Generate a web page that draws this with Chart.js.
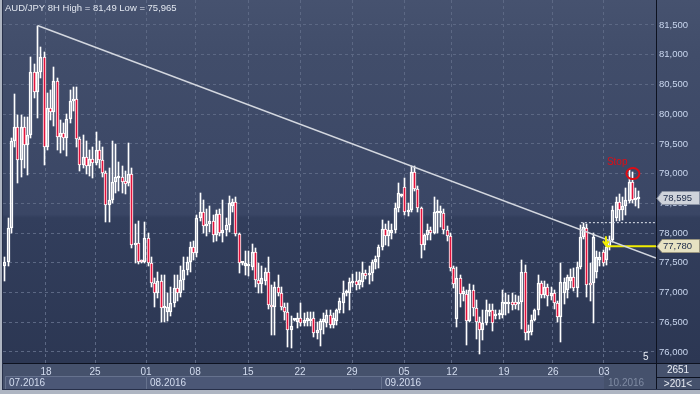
<!DOCTYPE html>
<html>
<head>
<meta charset="utf-8">
<script src="https://cdn.jsdelivr.net/npm/chart.js@4.4.0/dist/chart.umd.min.js"></script>
<style>
  html, body { margin: 0; padding: 0; background: #aeb5c2; }
  #c { display: block; }
</style>
</head>
<body>
<canvas id="c" width="700" height="394"></canvas>
<script>
// AUD/JPY 8H candles (index 0 = first bar on the left)
const openP = [
  77.45,77.52,78.08,79.55,79.78,79.23,79.78,79.48,79.65,80.71,
  80.37,80.71,80.96,79.45,80.10,80.03,80.55,79.62,79.68,79.60,
  79.92,80.22,80.25,79.58,79.15,79.28,79.12,79.25,79.18,79.40,
  79.23,79.01,78.47,78.56,78.86,78.92,78.95,78.88,78.84,79.00,
  77.80,77.83,77.52,77.51,77.92,77.50,77.16,76.99,77.20,76.74,
  76.68,76.67,76.82,77.07,77.00,77.21,77.38,77.51,77.76,77.66,
  78.25,78.35,78.12,78.15,78.20,77.97,78.32,78.00,78.05,78.14,
  78.45,78.52,77.98,77.49,77.45,77.45,77.43,77.68,77.21,77.14,
  77.20,77.34,76.79,76.76,77.09,77.00,76.76,76.67,76.37,76.53,
  76.50,76.57,76.49,76.52,76.52,76.57,76.32,76.37,76.50,76.48,
  76.62,76.45,76.52,76.71,76.82,77.00,77.00,77.16,77.20,77.13,
  77.18,77.33,77.30,77.33,77.51,77.60,77.77,78.07,77.95,78.00,
  78.05,78.42,78.62,78.78,78.35,78.39,79.03,78.74,78.42,77.80,
  77.97,78.05,78.00,78.33,78.34,78.34,78.05,77.95,77.41,76.56,
  77.24,76.98,76.98,76.52,77.04,76.74,76.50,76.37,76.49,76.67,
  76.71,76.60,76.63,76.62,76.80,76.80,76.84,76.84,76.80,76.84,
  77.34,76.32,76.33,76.54,76.71,77.16,76.96,77.10,76.95,77.00,
  76.82,76.59,77.00,77.05,77.20,77.26,77.08,77.43,77.93,78.08,
  77.16,77.16,77.34,77.55,77.68,77.55,77.77,77.88,78.25,78.52,
  78.39,78.45,78.54,78.86,78.56,78.58
];
const highP = [
  77.60,78.25,79.60,80.34,79.98,79.99,79.95,79.95,80.96,80.85,
  81.49,81.13,81.05,80.35,80.40,80.80,80.60,79.90,79.85,80.00,
  80.40,80.46,80.46,79.62,79.65,79.55,79.40,79.45,79.70,79.55,
  79.45,79.05,79.10,79.55,79.50,79.20,79.12,79.05,79.52,79.10,
  78.15,78.20,77.55,78.19,78.00,77.60,77.25,77.35,77.30,77.30,
  77.00,77.10,77.30,77.30,77.45,77.60,77.60,77.85,77.86,78.30,
  78.67,78.55,78.40,78.45,78.30,78.38,78.40,78.56,78.25,78.62,
  78.58,78.60,78.00,77.52,77.70,77.70,77.82,77.75,77.50,77.45,
  77.42,77.60,77.12,77.18,77.30,77.10,76.82,76.82,76.60,76.56,
  76.65,76.82,76.65,76.68,76.68,76.68,76.50,76.56,76.65,76.70,
  76.70,76.66,76.73,76.90,77.20,77.05,77.24,77.31,77.35,77.35,
  77.51,77.38,77.44,77.55,77.61,77.80,78.22,78.15,78.20,78.15,
  78.50,78.84,78.66,78.93,78.50,79.13,79.12,78.80,78.44,77.98,
  78.15,78.10,78.60,78.55,78.45,78.40,78.12,78.00,77.45,77.43,
  77.30,77.10,77.04,77.15,77.12,76.88,76.59,76.70,76.88,76.80,
  76.80,76.70,76.70,77.04,77.00,76.96,77.00,76.96,76.95,77.55,
  77.46,76.45,76.62,76.73,77.29,77.20,77.20,77.15,77.10,77.05,
  76.85,77.50,77.25,77.30,77.40,77.42,77.52,78.14,78.17,78.15,
  77.50,78.00,77.70,77.68,77.72,77.88,77.95,78.45,78.60,78.65,
  78.60,78.75,79.06,79.02,78.75,78.70
];
const lowP = [
  77.20,77.45,78.00,79.45,78.84,78.95,79.10,78.98,79.60,80.28,
  79.93,80.60,79.14,79.40,79.90,79.80,79.40,79.35,79.40,79.30,
  79.85,80.05,79.45,79.04,79.10,79.00,78.96,78.93,79.15,79.10,
  78.95,78.19,78.18,78.50,78.68,78.70,78.68,78.66,78.80,77.75,
  77.50,77.48,77.50,77.50,77.45,77.10,76.76,76.90,76.50,76.50,
  76.52,76.60,76.75,76.85,76.92,77.05,77.30,77.35,77.55,77.60,
  78.20,78.00,77.95,78.02,77.85,77.87,77.95,77.85,77.95,78.02,
  78.35,77.95,77.33,77.47,77.30,77.28,77.38,77.10,77.00,77.00,
  77.12,76.72,76.29,76.29,76.95,76.70,76.54,76.08,76.06,76.52,
  76.40,76.44,76.44,76.44,76.44,76.26,76.22,76.10,76.30,76.42,
  76.40,76.40,76.46,76.65,76.65,76.95,76.70,77.10,77.05,77.06,
  77.10,77.22,77.15,77.20,77.40,77.42,77.72,77.80,77.78,77.90,
  78.00,78.36,78.60,78.30,78.28,78.35,78.70,78.36,77.58,77.72,
  77.88,77.88,77.98,78.00,78.10,77.99,77.86,77.36,77.07,76.42,
  76.75,76.86,76.12,76.50,76.60,76.22,75.965,76.20,76.45,76.60,
  76.35,76.55,76.55,76.58,76.62,76.66,76.70,76.72,76.70,76.38,
  76.20,76.20,76.28,76.52,76.62,76.90,76.90,76.78,76.88,76.72,
  76.50,76.17,76.80,76.90,77.08,77.02,76.93,77.40,77.90,76.92,
  76.85,76.49,77.25,77.45,77.45,77.46,77.72,77.85,78.20,78.20,
  78.22,78.30,78.50,78.50,78.45,78.42
];
const closeP = [
  77.52,78.08,79.55,79.78,79.23,79.78,79.48,79.65,80.71,80.37,
  80.71,80.96,79.45,80.10,80.03,80.55,79.62,79.68,79.60,79.92,
  80.22,80.25,79.58,79.15,79.28,79.12,79.25,79.18,79.40,79.23,
  79.01,78.47,78.56,78.86,78.94,78.95,78.86,78.83,79.00,77.80,
  77.83,77.52,77.51,77.92,77.50,77.16,76.99,77.20,76.74,76.76,
  76.75,76.82,77.07,77.00,77.21,77.38,77.51,77.76,77.66,78.25,
  78.35,78.12,78.15,78.20,77.97,78.32,78.00,78.05,78.14,78.50,
  78.52,77.98,77.49,77.50,77.50,77.48,77.68,77.21,77.14,77.24,
  77.34,76.79,76.76,77.09,77.00,76.76,76.67,76.37,76.43,76.54,
  76.57,76.49,76.54,76.57,76.56,76.32,76.37,76.52,76.55,76.62,
  76.45,76.57,76.71,76.85,77.00,77.00,77.18,77.20,77.13,77.21,
  77.33,77.28,77.33,77.51,77.57,77.77,78.07,77.95,78.05,78.05,
  78.42,78.67,78.64,78.35,78.39,79.03,78.74,78.42,77.80,77.97,
  78.05,78.00,78.35,78.36,78.36,78.05,77.95,77.41,77.15,77.24,
  76.98,77.02,76.52,77.04,76.74,76.50,76.37,76.49,76.71,76.71,
  76.49,76.64,76.63,76.84,76.84,76.84,76.79,76.79,76.84,77.34,
  76.32,76.33,76.54,76.71,77.16,76.96,77.10,76.95,77.00,76.82,
  76.59,77.18,77.18,77.26,77.26,77.08,77.43,77.93,78.10,77.13,
  77.13,77.93,77.60,77.60,77.50,77.77,77.88,78.39,78.52,78.39,
  78.45,78.55,78.86,78.56,78.58,78.595
];

// x axis: week ticks (bar index where the week starts) and month blocks
const weekTicks  = [12.6, 27.7, 43.4, 58.5, 74.8, 90.8, 106.8, 122.8, 137.5, 153.5, 168.6, 184.3];
const weekLabels = ['18','25','01','08','15','22','29','05','12','19','26','03'];
const monthStarts = [-0.6, 43.4, 115.7, 184.3];
const monthLabels = ['07.2016','08.2016','09.2016','10.2016'];

// y axis ticks
const priceTicks = [76, 76.5, 77, 77.5, 78, 78.5, 79, 79.5, 80, 80.5, 81, 81.5];

// drawn objects on the chart
const trendIdx   = [10, 200.3];
const trendPrice = [81.49, 77.58];
const breakIdx   = [177.2, 200.3];
const breakLevel = 78.175;
const entryIdx   = [185.2, 200.3];
const entryLevel = 77.78;
const stopIdx = 193.2, stopPrice = 79.0;
const lastPrice = 78.595;

const RED = '#e3123c';
const FONT = '"Liberation Sans", Arial, sans-serif';
const fmt = v => v.toFixed(3).replace('.', ',');

const bars = openP.map((o, i) => i);
const bodyData  = bars.map(i => ({ x: i, y: [Math.min(openP[i], closeP[i]), Math.max(openP[i], closeP[i])] }));
const upperData = bars.map(i => ({ x: i, y: [Math.max(openP[i], closeP[i]), highP[i]] }));
const lowerData = bars.map(i => ({ x: i, y: [lowP[i], Math.min(openP[i], closeP[i])] }));
const bodyFill  = bars.map(i => closeP[i] < openP[i] ? RED : 'rgba(0,0,0,0)');

// snap the thin bars to whole pixels so wicks stay crisp
const snapBars = {
  id: 'snapBars',
  beforeDatasetsDraw(chart) {
    chart.data.datasets.forEach((ds, k) => {
      if (ds.type !== 'bar') return;
      chart.getDatasetMeta(k).data.forEach(el => {
        el.x = Math.round(el.x - 0.5) + 0.5;
        el.y = Math.round(el.y);
        el.base = Math.round(el.base);
      });
    });
  }
};

const backdrop = {
  id: 'backdrop',
  beforeDraw(chart) {
    const { ctx, chartArea: a } = chart;
    ctx.save();
    ctx.fillStyle = '#aeb5c2';
    ctx.fillRect(0, 0, 700, 394);
    ctx.fillStyle = '#45516c';
    ctx.fillRect(3, 0, 697, 390);
    const g = ctx.createLinearGradient(0, 0, 0, a.bottom);
    g.addColorStop(0, '#46526f');
    g.addColorStop(0.15, '#414d6a');
    g.addColorStop(0.59, '#3a4665');
    g.addColorStop(0.6, '#323e5c');
    g.addColorStop(1, '#2c3753');
    ctx.fillStyle = g;
    ctx.fillRect(3, 0, 697, a.bottom);

    // month row
    const xs = chart.scales.x;
    ctx.font = '10px ' + FONT;
    ctx.textBaseline = 'middle';
    monthStarts.forEach((m, k) => {
      const x1 = Math.max(a.left + 2, Math.round(xs.getPixelForValue(m)));
      const x2 = k < monthStarts.length - 1 ? Math.round(xs.getPixelForValue(monthStarts[k + 1])) : a.right;
      const last = k === monthStarts.length - 1;
      if (!last) {
        ctx.fillStyle = '#4b5776';
        ctx.fillRect(x1, 377, x2 - x1, 12);
        ctx.strokeStyle = '#66728e';
        ctx.lineWidth = 1;
        ctx.beginPath();
        ctx.moveTo(x1 + 0.5, 389); ctx.lineTo(x1 + 0.5, 376.5); ctx.lineTo(x2, 376.5);
        ctx.stroke();
      }
      ctx.fillStyle = last ? '#7f8ba3' : '#d3dcef';
      ctx.fillText(monthLabels[k], x1 + 4, 383.5);
    });
    ctx.restore();
  },
  afterDraw(chart) {
    const { ctx, chartArea: a, scales: { x: xs, y: ys } } = chart;
    ctx.save();
    // frame lines
    ctx.strokeStyle = '#0d1220';
    ctx.lineWidth = 1;
    ctx.beginPath();
    ctx.moveTo(3, a.bottom + 0.5); ctx.lineTo(700, a.bottom + 0.5);
    ctx.moveTo(a.right + 0.5, 0); ctx.lineTo(a.right + 0.5, 390);
    ctx.moveTo(a.right, 377.5); ctx.lineTo(700, 377.5);
    ctx.stroke();
    ctx.strokeStyle = '#27304a';
    ctx.beginPath();
    ctx.moveTo(3, 389.5); ctx.lineTo(700, 389.5);
    ctx.moveTo(2.5, 0); ctx.lineTo(2.5, 390);
    ctx.stroke();

    // title
    ctx.font = '9.5px ' + FONT;
    ctx.fillStyle = '#e2e7f0';
    ctx.textBaseline = 'middle';
    ctx.textAlign = 'left';
    ctx.fillText('AUD/JPY 8H High = 81,49 Low = 75,965', 5, 8);

    // yellow entry arrow
    const ex = xs.getPixelForValue(entryIdx[0]) - 1;
    const ey = ys.getPixelForValue(entryLevel);
    ctx.strokeStyle = '#f2ee00';
    ctx.lineWidth = 2;
    ctx.beginPath();
    ctx.moveTo(ex, ey - 10); ctx.lineTo(ex, ey - 2);
    ctx.moveTo(ex - 3, ey - 5); ctx.lineTo(ex, ey - 1); ctx.lineTo(ex + 3, ey - 5);
    ctx.moveTo(ex, ey); ctx.lineTo(ex + 3, ey);
    ctx.stroke();

    // stop marker
    const sx = xs.getPixelForValue(stopIdx), sy = ys.getPixelForValue(stopPrice);
    ctx.strokeStyle = '#e00c14';
    ctx.lineWidth = 2;
    ctx.beginPath();
    ctx.ellipse(sx, sy, 6.5, 5.5, 0, 0, Math.PI * 2);
    ctx.stroke();
    ctx.fillStyle = '#e00c14';
    ctx.font = '10px ' + FONT;
    ctx.fillText('Stop', sx - 26, sy - 11);

    // price boxes on the axis
    const tag = (price, fill, edge) => {
      const y = Math.round(ys.getPixelForValue(price));
      ctx.fillStyle = fill;
      ctx.strokeStyle = edge;
      ctx.lineWidth = 1;
      ctx.beginPath();
      ctx.moveTo(a.right + 1, y + 0.5);
      ctx.lineTo(a.right + 6, y - 6.5);
      ctx.lineTo(699.5, y - 6.5);
      ctx.lineTo(699.5, y + 6.5);
      ctx.lineTo(a.right + 6, y + 6.5);
      ctx.closePath();
      ctx.fill();
      ctx.stroke();
      ctx.fillStyle = '#1c2a48';
      ctx.font = '9.5px ' + FONT;
      ctx.fillText(fmt(price), a.right + 7, y + 0.5);
    };
    tag(lastPrice, '#cfd3db', '#8b93a4');
    tag(entryLevel, '#e6e2c2', '#9a9680');

    // small texts
    ctx.fillStyle = '#e8ecf4';
    ctx.font = '10px ' + FONT;
    ctx.fillText('5', a.right - 13, a.bottom - 6);
    ctx.textAlign = 'center';
    ctx.fillText('2651', 678, 370.5);
    ctx.fillText('>201<', 678, 384);
    ctx.restore();
  }
};

new Chart(document.getElementById('c'), {
  data: {
    datasets: [
      { type: 'line', data: trendIdx.map((x, k) => ({ x, y: trendPrice[k] })),
        borderColor: '#d3d7df', borderWidth: 1.5, pointRadius: 0 },
      { type: 'line', data: breakIdx.map(x => ({ x, y: breakLevel })),
        borderColor: '#e2e6ee', borderWidth: 1, borderDash: [2, 2], pointRadius: 0 },
      { type: 'line', data: entryIdx.map(x => ({ x, y: entryLevel })),
        borderColor: '#f2ee00', borderWidth: 2, pointRadius: 0 },
      { type: 'bar', data: bodyData, backgroundColor: bodyFill, borderColor: '#ffffff',
        borderWidth: 1, borderSkipped: false, barThickness: 3, minBarLength: 2, grouped: false },
      { type: 'bar', data: upperData, backgroundColor: '#ffffff', barThickness: 1, grouped: false },
      { type: 'bar', data: lowerData, backgroundColor: '#ffffff', barThickness: 1, grouped: false }
    ]
  },
  options: {
    responsive: false,
    animation: false,
    devicePixelRatio: 1,
    layout: { padding: { left: 3, bottom: 4, top: 0, right: 0 } },
    plugins: { legend: { display: false }, tooltip: { enabled: false } },
    scales: {
      x: {
        type: 'linear', min: -0.615, max: 200.3, offset: false,
        afterBuildTicks: s => { s.ticks = weekTicks.map(v => ({ value: v })); },
        afterFit: s => { s.height = 27; s.paddingLeft = 0; s.paddingRight = 0; },
        grid: { color: '#5c6884', drawTicks: false, offset: false },
        border: { display: false, dash: [3, 3] },
        ticks: {
          autoSkip: false, maxRotation: 0, padding: 3, color: '#d3dcef',
          font: { size: 10, family: FONT },
          callback: (v, k) => weekLabels[k]
        }
      },
      y: {
        type: 'linear', position: 'right', min: 75.815, max: 81.92,
        afterBuildTicks: s => { s.ticks = priceTicks.map(v => ({ value: v })); },
        afterFit: s => { s.width = 44; s.paddingTop = 0; s.paddingBottom = 0; },
        grid: { color: '#5c6884', drawTicks: false },
        border: { display: false, dash: [3, 3] },
        ticks: {
          padding: 3, color: '#c9d6ee',
          font: { size: 9.5, family: FONT },
          callback: v => fmt(v)
        }
      }
    }
  },
  plugins: [snapBars, backdrop]
});
</script>
</body>
</html>
